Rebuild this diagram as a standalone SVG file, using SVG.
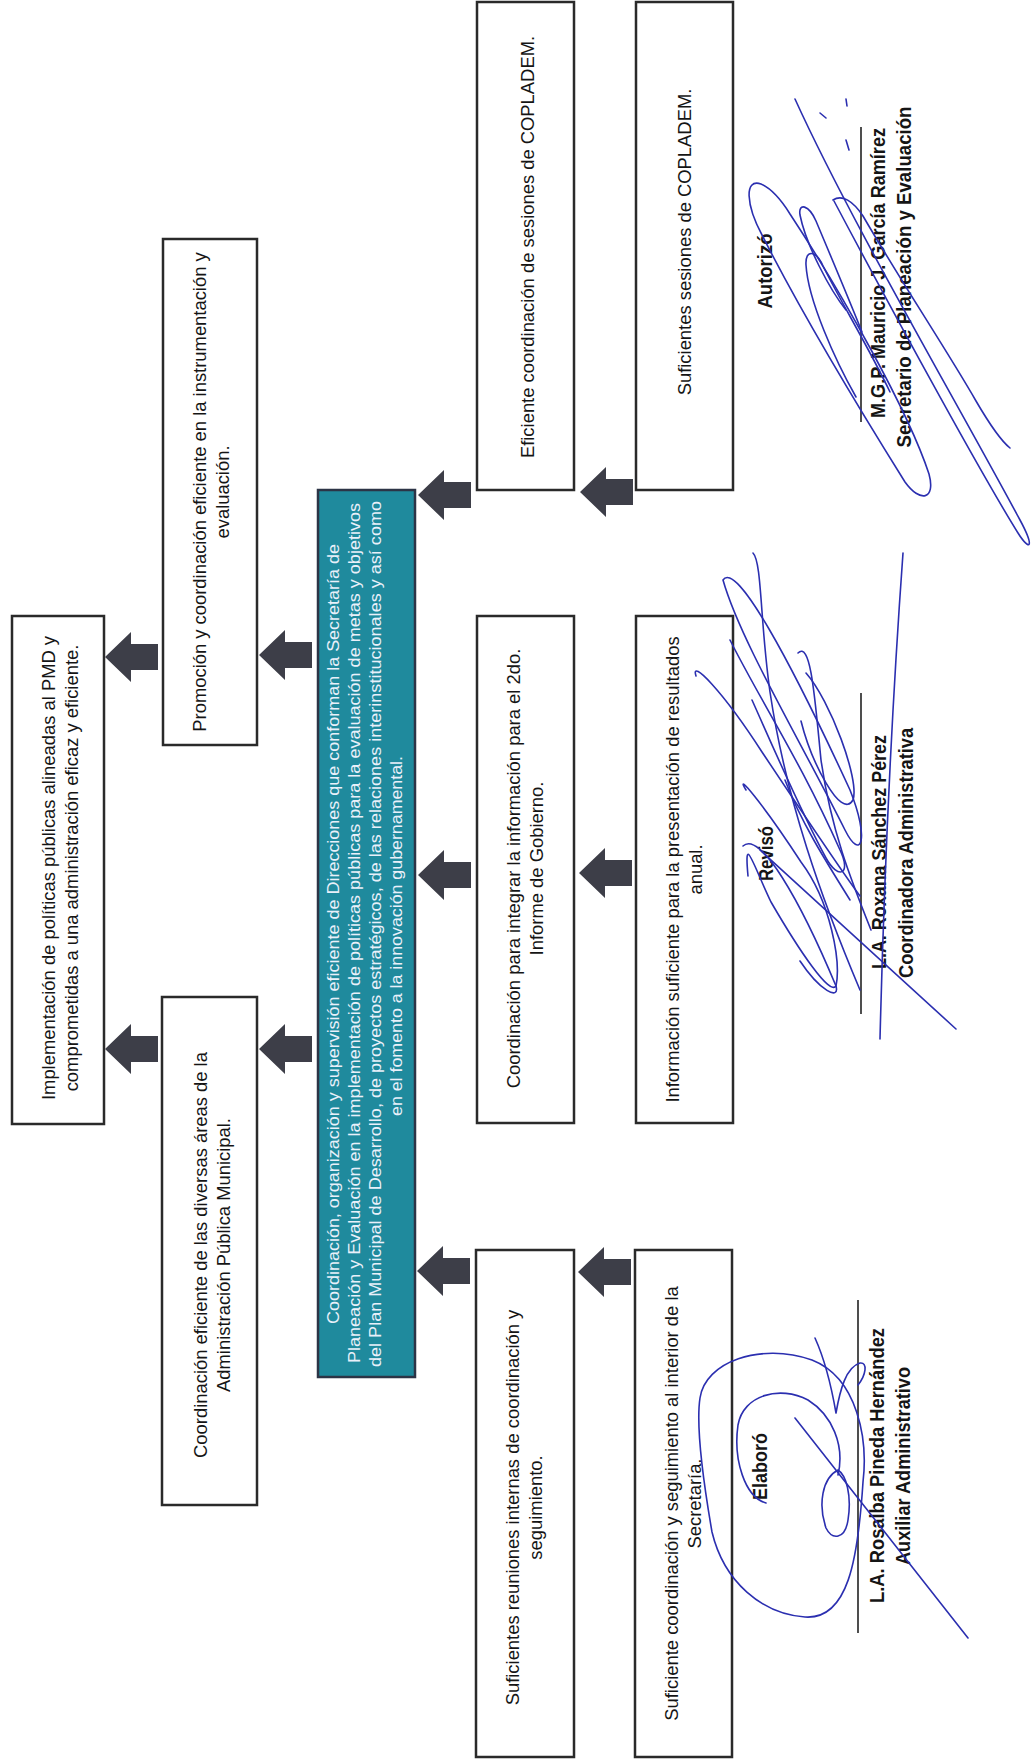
<svg xmlns="http://www.w3.org/2000/svg" xmlns:xlink="http://www.w3.org/1999/xlink" width="1033" height="1760" viewBox="0 0 1033 1760">
<style>
.box{fill:#ffffff;stroke:#2a2a2a;stroke-width:2.5}
.core{fill:#1f8a9d;stroke:#2c3446;stroke-width:2.5}
.t{font-family:"Liberation Sans",Arial,sans-serif;font-size:18.4px;fill:#151515;text-anchor:middle}
.tc{font-family:"Liberation Sans",Arial,sans-serif;font-size:16px;fill:#e9f0fa;text-anchor:middle}
.s{font-family:"Liberation Sans Narrow","Arial Narrow","Liberation Sans",Arial,sans-serif;font-size:20px;font-weight:bold;fill:#151515;text-anchor:middle}
.arr{fill:#3d3e48}
.sl{stroke:#222;stroke-width:1.6}
.ink{fill:none;stroke:#2b2fb0;stroke-width:1.6;stroke-linecap:round;stroke-linejoin:round}
</style>
<defs>
<path id="arrow" d="M0,0 L26,-25 L26,-13 L53,-13 L53,13 L26,13 L26,25 Z"/>
</defs>
<rect width="1033" height="1760" fill="#ffffff"/>

<g id="n-implementacion">
<rect class="box" x="12" y="616" width="92" height="508"/>
<text class="t" transform="translate(54.5,868) rotate(-90)"><tspan x="0" y="0">Implementación de políticas públicas alineadas al PMD y</tspan><tspan x="0" y="23">comprometidas a una administración eficaz y eficiente.</tspan></text>
</g>

<g id="n-promocion">
<rect class="box" x="163" y="239" width="94" height="506"/>
<text class="t" transform="translate(205.5,492) rotate(-90)"><tspan x="0" y="0">Promoción y coordinación eficiente en la instrumentación y</tspan><tspan x="0" y="23">evaluación.</tspan></text>
</g>

<g id="n-coord-eficiente">
<rect class="box" x="162" y="997" width="95" height="508"/>
<text class="t" transform="translate(206.5,1255) rotate(-90)"><tspan x="0" y="0">Coordinación eficiente de las diversas áreas de la</tspan><tspan x="0" y="23">Administración Pública Municipal.</tspan></text>
</g>

<g id="n-proposito">
<rect class="core" x="318" y="490" width="97" height="887"/>
<text class="tc" transform="translate(339,934) rotate(-90)" textLength="780" lengthAdjust="spacingAndGlyphs">Coordinación, organización y supervisión eficiente de Direcciones que conforman la Secretaría de</text>
<text class="tc" transform="translate(360,933) rotate(-90)" textLength="860" lengthAdjust="spacingAndGlyphs">Planeación y Evaluación en la implementación de políticas públicas para la evaluación de metas y objetivos</text>
<text class="tc" transform="translate(381,934) rotate(-90)" textLength="866" lengthAdjust="spacingAndGlyphs">del Plan Municipal de Desarrollo, de proyectos estratégicos, de las relaciones interinstitucionales y así como</text>
<text class="tc" transform="translate(402,936) rotate(-90)" textLength="360" lengthAdjust="spacingAndGlyphs">en el fomento a la innovación gubernamental.</text>
</g>

<g id="n-eficiente-copladem">
<rect class="box" x="477" y="2" width="97" height="488"/>
<text class="t" transform="translate(533.5,247) rotate(-90)">Eficiente coordinación de sesiones de COPLADEM.</text>
</g>

<g id="n-coord-informe">
<rect class="box" x="477" y="616" width="97" height="507"/>
<text class="t" transform="translate(519.5,868.5) rotate(-90)"><tspan x="0" y="0">Coordinación para integrar la información para el 2do.</tspan><tspan x="0" y="23">Informe de Gobierno.</tspan></text>
</g>

<g id="n-reuniones">
<rect class="box" x="476" y="1250" width="98" height="507"/>
<text class="t" transform="translate(518.5,1507.5) rotate(-90)"><tspan x="0" y="0">Suficientes reuniones internas de coordinación y</tspan><tspan x="0" y="23">seguimiento.</tspan></text>
</g>

<g id="n-sesiones">
<rect class="box" x="636" y="2" width="97" height="488"/>
<text class="t" transform="translate(691,242) rotate(-90)">Suficientes sesiones de COPLADEM.</text>
</g>

<g id="n-informacion">
<rect class="box" x="636" y="616" width="97" height="507"/>
<text class="t" transform="translate(678.5,869.5) rotate(-90)"><tspan x="0" y="0">Información suficiente para la presentación de resultados</tspan><tspan x="0" y="23">anual.</tspan></text>
</g>

<g id="n-seguimiento">
<rect class="box" x="635" y="1250" width="97" height="507"/>
<text class="t" transform="translate(677.5,1503.5) rotate(-90)"><tspan x="0" y="0">Suficiente coordinación y seguimiento al interior de la</tspan><tspan x="0" y="23">Secretaría.</tspan></text>
</g>

<g id="connectors" class="arr">
<use href="#arrow" transform="translate(105,657)"/>
<use href="#arrow" transform="translate(105,1049)"/>
<use href="#arrow" transform="translate(259,655)"/>
<use href="#arrow" transform="translate(259,1049)"/>
<use href="#arrow" transform="translate(418,495)"/>
<use href="#arrow" transform="translate(418,875)"/>
<use href="#arrow" transform="translate(417,1271)"/>
<use href="#arrow" transform="translate(580,492)"/>
<use href="#arrow" transform="translate(579,873)"/>
<use href="#arrow" transform="translate(578,1272)"/>
</g>

<g id="firma-autorizo">
<line class="sl" x1="861" y1="127" x2="861" y2="422"/>
<text class="s" transform="translate(772,271) rotate(-90)" textLength="75" lengthAdjust="spacingAndGlyphs">Autorizó</text>
<text class="s" transform="translate(885,273) rotate(-90)" textLength="290" lengthAdjust="spacingAndGlyphs">M.G.P. Mauricio J. García Ramírez</text>
<text class="s" transform="translate(911,277) rotate(-90)" textLength="341" lengthAdjust="spacingAndGlyphs">Secretario de Planeación y Evaluación</text>
<path class="ink" d="M795,99 C850,220 950,390 1020,520 C1035,548 1030,552 1018,533 C985,480 905,335 834,201"/>
<path class="ink" d="M761,184 C744,178 746,205 762,235 C800,310 860,410 905,482 C920,503 936,500 929,474 C908,410 840,290 790,214 C780,198 770,188 761,184"/>
<path class="ink" d="M846,310 C830,290 806,245 800,215 C798,202 809,205 816,221 C829,252 846,292 862,332"/>
<path class="ink" d="M856,397 C835,360 808,300 806,265 C805,249 816,250 823,266 C841,302 870,350 890,392"/>
<path class="ink" d="M833,200 C842,194 853,201 863,216 C900,280 948,352 976,401 C990,425 1000,440 1010,448"/>
<path class="ink" d="M820,113 L826,118 M846,99 L847,106 M846,140 L849,150"/>
</g>

<g id="firma-reviso">
<line class="sl" x1="861" y1="693" x2="861" y2="1014"/>
<text class="s" transform="translate(773,853.5) rotate(-90)" textLength="55" lengthAdjust="spacingAndGlyphs">Revisó</text>
<text class="s" transform="translate(886,852) rotate(-90)" textLength="234" lengthAdjust="spacingAndGlyphs">L.A. Roxana Sánchez Pérez</text>
<text class="s" transform="translate(913,853) rotate(-90)" textLength="250" lengthAdjust="spacingAndGlyphs">Coordinadora Administrativa</text>
<path class="ink" d="M723,580 C736,560 790,660 850,790 C870,840 861,862 845,830 C800,740 740,640 723,580"/>
<path class="ink" d="M696,676 C690,658 722,690 762,752 C802,812 842,872 860,896"/>
<path class="ink" d="M753,553 C762,562 760,622 770,692 C786,800 822,900 860,990"/>
<path class="ink" d="M798,653 C811,640 815,700 821,760 C831,830 851,880 871,930"/>
<path class="ink" d="M746,790 C734,770 762,802 801,862 C831,902 841,962 836,986 C830,996 800,952 771,902 C752,862 744,832 748,876"/>
<path class="ink" d="M903,553 C896,650 886,800 880,1039"/>
<path class="ink" d="M760,850 L956,1029"/>
<path class="ink" d="M743,846 C760,830 800,900 836,986 C840,1001 820,991 800,961"/>
<path class="ink" d="M806,673 C830,700 860,780 853,800 C841,821 811,761 801,721"/>
<path class="ink" d="M730,640 C760,700 800,760 840,850 C852,875 838,880 826,858 C800,810 770,740 752,700"/>
<path class="ink" d="M785,780 C800,820 825,860 850,900"/>
</g>

<g id="firma-elaboro">
<line class="sl" x1="858" y1="1300" x2="858" y2="1633"/>
<text class="s" transform="translate(767,1466.5) rotate(-90)" textLength="67" lengthAdjust="spacingAndGlyphs">Elaboró</text>
<text class="s" transform="translate(884,1465.5) rotate(-90)" textLength="275" lengthAdjust="spacingAndGlyphs">L.A. Rosalba Pineda Hernández</text>
<text class="s" transform="translate(910,1466) rotate(-90)" textLength="198" lengthAdjust="spacingAndGlyphs">Auxiliar Administrativo</text>
<path class="ink" d="M700,1398 C705,1362 760,1342 812,1360 C858,1378 868,1440 863,1482 C858,1560 848,1620 805,1617 C762,1614 724,1582 712,1532 C702,1474 696,1424 700,1398"/>
<path class="ink" d="M766,1503 C745,1497 733,1460 738,1425 C743,1395 780,1385 808,1400 C832,1415 845,1445 838,1475"/>
<path class="ink" d="M838,1470 C822,1478 818,1505 826,1528 C832,1540 845,1540 848,1520 C852,1495 846,1475 838,1470"/>
<path class="ink" d="M795,1418 L968,1638"/>
<path class="ink" d="M815,1338 C825,1360 832,1390 836,1413 C840,1390 846,1367 860,1363 C868,1362 866,1375 858,1385"/>
</g>
</svg>
